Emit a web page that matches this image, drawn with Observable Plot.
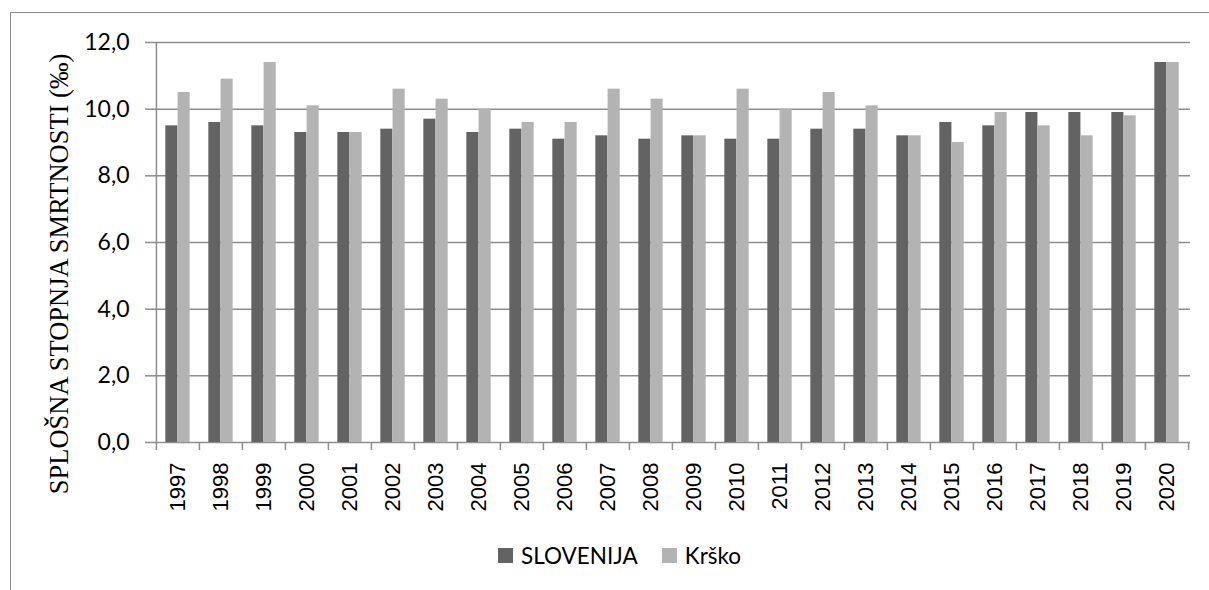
<!DOCTYPE html>
<html>
<head>
<meta charset="utf-8">
<script src="https://cdn.jsdelivr.net/npm/d3@7"></script>
<script src="https://cdn.jsdelivr.net/npm/@observablehq/plot@0.6"></script>
<style>
  html, body { margin: 0; padding: 0; background: #fff; }
  #wrap { position: relative; width: 1209px; height: 590px; overflow: hidden; background: #fff; }
  #frame { position: absolute; left: 10px; top: 12px; width: 1400px; height: 800px;
           border-left: 1px solid #898989; border-top: 1px solid #898989; }
  #chart { position: absolute; left: 0; top: 0; }
  #legend { position: absolute; left: 498px; top: 541px; height: 28px; display: flex; align-items: center;
            font-family: Lato, "Open Sans", sans-serif; font-size: 22.5px; color: #000; }
  #legend .sw { display: inline-block; width: 15px; height: 15px; margin-right: 8px; }
  #legend .item { display: flex; align-items: center; margin-right: 24px; }
</style>
</head>
<body>
<div id="wrap">
  <div id="frame"></div>
  <div id="chart"></div>
  <div id="legend"></div>
</div>
<script>
const years = ["1997","1998","1999","2000","2001","2002","2003","2004","2005","2006","2007","2008",
               "2009","2010","2011","2012","2013","2014","2015","2016","2017","2018","2019","2020"];
const slovenija = [9.5,9.6,9.5,9.3,9.3,9.4,9.7,9.3,9.4,9.1,9.2,9.1,9.2,9.1,9.1,9.4,9.4,9.2,9.6,9.5,9.9,9.9,9.9,11.4];
const krsko     = [10.5,10.9,11.4,10.1,9.3,10.6,10.3,10.0,9.6,9.6,10.6,10.3,9.2,10.6,10.0,10.5,10.1,9.2,9.0,9.9,9.5,9.2,9.8,11.4];
const seriesNames = ["SLOVENIJA", "Krško"];
const seriesColors = ["#636363", "#b3b3b3"];
const yTicks = [0, 2, 4, 6, 8, 10, 12];
const yTitle = "SPLOŠNA STOPNJA SMRTNOSTI (‰)";

const W = 1209, H = 530, ML = 154, MR = 19, MT = 42, MB = H - 442;
const band = (W - ML - MR) / years.length;
const barW = 12.25;
const pad = (band - 2 * barW) / 2;
const gridColor = "#8e8e8e";

const data = years.map((y, i) => ({year: y, s: slovenija[i], k: krsko[i]}));

const chart = Plot.plot({
  width: W, height: H,
  marginLeft: ML, marginRight: MR, marginTop: MT, marginBottom: MB,
  style: {background: "transparent", overflow: "visible"},
  x: {type: "band", domain: years, padding: 0},
  y: {domain: [0, 12]},
  marks: [
    Plot.ruleY(yTicks, {stroke: gridColor, strokeWidth: 1.5}),
    Plot.axisY({ticks: yTicks, tickSize: 9, tickPadding: 16, stroke: gridColor, strokeWidth: 1.5, fill: "#000",
                tickFormat: d => d.toFixed(1).replace(".", ","), fontSize: 23,
                fontFamily: "Lato, 'Open Sans', sans-serif", label: null}),
    Plot.ruleX([years[0]], {dx: -band / 2, y1: 0, y2: 12, stroke: gridColor, strokeWidth: 1.5}),
    Plot.axisX({ticks: years, tickSize: 8, dx: -band / 2, stroke: gridColor, strokeWidth: 1.5, fill: "none", label: null}),
    Plot.axisX({ticks: [years[years.length - 1]], tickSize: 8, dx: band / 2, stroke: gridColor, strokeWidth: 1.5, fill: "none", label: null}),
    Plot.axisX({ticks: years, tickSize: 0, tickPadding: 20, tickRotate: -90, fontSize: 22,
                fontFamily: "'Liberation Sans', Arial, sans-serif", fill: "#000", label: null}),
    Plot.barY(data, {x: "year", y: "s", fill: seriesColors[0], insetLeft: pad, insetRight: band - pad - barW}),
    Plot.barY(data, {x: "year", y: "k", fill: seriesColors[1], insetLeft: pad + barW, insetRight: pad}),
    Plot.text([yTitle], {frameAnchor: "left", textAnchor: "middle", lineAnchor: "middle",
                         dx: 59.5 - ML, dy: 273.5 - (MT + 442) / 2, rotate: -90,
                         fontSize: 26.5, fontFamily: "'Liberation Serif', 'Times New Roman', serif", fill: "#000"})
  ]
});
document.getElementById("chart").appendChild(chart);

const legend = document.getElementById("legend");
seriesNames.forEach((name, i) => {
  const item = document.createElement("div");
  item.className = "item";
  const sw = document.createElement("span");
  sw.className = "sw";
  sw.style.background = seriesColors[i];
  const label = document.createElement("span");
  label.textContent = name;
  item.appendChild(sw);
  item.appendChild(label);
  legend.appendChild(item);
});
</script>
</body>
</html>
